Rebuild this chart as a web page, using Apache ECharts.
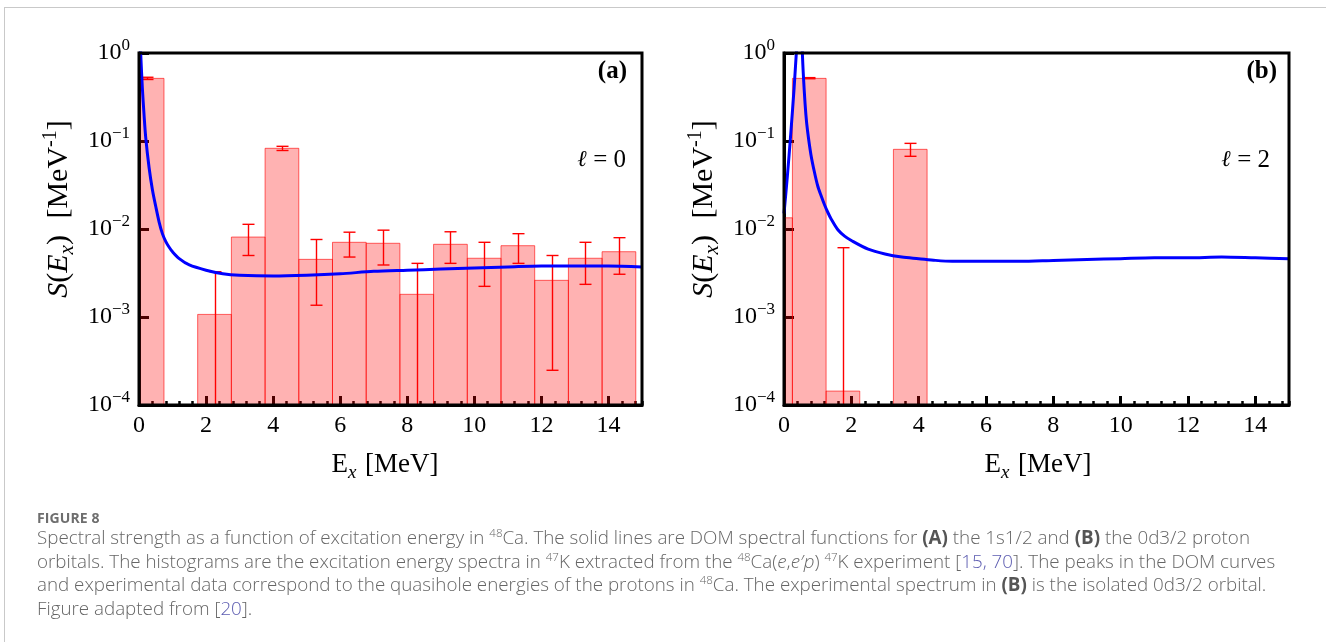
<!DOCTYPE html>
<html>
<head>
<meta charset="utf-8">
<script src="https://cdn.jsdelivr.net/npm/echarts@6/dist/echarts.min.js"></script>
<style>
html,body{margin:0;padding:0;background:#fff;}
#wrap{position:relative;width:1326px;height:642px;overflow:hidden;background:#fff;}
#chart{position:absolute;left:0;top:0;width:1326px;height:642px;}
#frame{position:absolute;left:4px;top:7px;width:1340px;height:660px;border-left:1.5px solid #c9c9c9;border-top:1.5px solid #c9c9c9;pointer-events:none;}
#cap{position:absolute;left:37px;top:509px;font-family:"Open Sans",sans-serif;color:#666;white-space:nowrap;}
#cap .fig{font-size:14px;font-weight:700;line-height:17px;color:#6e6e6e;letter-spacing:0.1px;}
#cap .txt{font-size:18.8px;line-height:23.5px;font-weight:300;}
#cap sup{font-size:11.5px;vertical-align:super;line-height:0;}
#cap a{color:#5b5bb0;text-decoration:none;}
#cap b{font-weight:700;color:#555;}
</style>
</head>
<body>
<div id="wrap">
<div id="chart"></div>
<div id="frame"></div>
<div id="cap">
<div class="fig">FIGURE 8</div>
<div class="txt">Spectral strength as a function of excitation energy in <sup>48</sup>Ca. The solid lines are DOM spectral functions for <b>(A)</b> the 1s1/2 and <b>(B)</b> the 0d3/2 proton<br>orbitals. The histograms are the excitation energy spectra in <sup>47</sup>K extracted from the <sup>48</sup>Ca(<i>e</i>,<i>e′p</i>) <sup>47</sup>K experiment [<a>15, 70</a>]. The peaks in the DOM curves<br>and experimental data correspond to the quasihole energies of the protons in <sup>48</sup>Ca. The experimental spectrum in <b>(B)</b> is the isolated 0d3/2 orbital.<br>Figure adapted from [<a>20</a>].</div>
</div>
</div>
<script>
// ---------- data ----------
// Panel (a): l = 0 histogram (bin edges, strengths, error bounds)
const edgesA = [-0.26, 0.745, 1.75, 2.755, 3.76, 4.765, 5.77, 6.775, 7.78, 8.785, 9.79, 10.795, 11.8, 12.805, 13.81, 14.815];
const valsA  = [0.515, null, 1.07e-3, 8.1e-3, 0.0826, 4.52e-3, 7.06e-3, 6.88e-3, 1.81e-3, 6.7e-3, 4.65e-3, 6.46e-3, 2.61e-3, 4.65e-3, 5.52e-3];
const errHiA = [0.53, null, 3.27e-3, 0.0113, 0.087, 7.6e-3, 9.2e-3, 9.7e-3, 4.07e-3, 9.3e-3, 7.06e-3, 8.85e-3, 5.0e-3, 7.06e-3, 7.97e-3];
const errLoA = [0.50, null, null, 5.0e-3, 0.078, 1.36e-3, 4.8e-3, 3.9e-3, null, 4.07e-3, 2.23e-3, 4.07e-3, 2.48e-4, 2.35e-3, 3.06e-3];
// Panel (a): DOM spectral function
const curveAx = [0.02, 0.05, 0.1, 0.15, 0.2, 0.3, 0.4, 0.5, 0.6, 0.7, 0.8, 0.9, 1.0, 1.2, 1.5, 2.0, 2.5, 3.0, 4.0, 5.0, 6.0, 7.0, 8.0, 9.0, 10.0, 11.0, 12.0, 13.0, 14.0, 15.0];
const curveAy = [2.0, 1.0, 0.4, 0.2, 0.11, 0.05, 0.028, 0.018, 0.012, 0.0088, 0.0072, 0.0062, 0.0055, 0.0046, 0.0039, 0.0034, 0.0031, 0.00298, 0.00292, 0.00298, 0.0031, 0.0033, 0.0034, 0.0035, 0.0036, 0.0037, 0.0038, 0.0038, 0.0038, 0.0037];

// Panel (b): l = 2 histogram
const edgesB = [-0.75, 0.25, 1.25, 2.25, 3.25, 4.25];
const valsB  = [0.0134, 0.515, 1.44e-4, null, 0.0804];
const errHiB = [null, 0.525, 6.13e-3, null, 0.094];
const errLoB = [null, 0.51, null, null, 0.067];
// Panel (b): DOM spectral function
const curveBx = [0.0, 0.1, 0.2, 0.3, 0.35, 0.4, 0.45, 0.5, 0.55, 0.6, 0.65, 0.7, 0.8, 0.9, 1.0, 1.1, 1.2, 1.3, 1.4, 1.6, 1.8, 2.0, 2.5, 3.0, 3.5, 4.0, 4.5, 5.0, 6.0, 7.0, 8.0, 9.0, 10.0, 11.0, 12.0, 13.0, 14.0, 15.0];
const curveBy = [0.015, 0.04, 0.12, 0.4, 0.8, 1.6, 4.0, 4.0, 0.9, 0.38, 0.2, 0.13, 0.07, 0.045, 0.031, 0.024, 0.019, 0.0155, 0.013, 0.0098, 0.0083, 0.0074, 0.0059, 0.0052, 0.0048, 0.0046, 0.0044, 0.0043, 0.0043, 0.0043, 0.0044, 0.0045, 0.0046, 0.0047, 0.0047, 0.0048, 0.0047, 0.0046];

// axis ticks
const xMin = 0, xMax = 15, xMajor = 2, xMinor = 0.4;
const yMin = 1e-4, yMax = 1;

// ---------- helpers ----------
const SERIF = '"Liberation Serif","DejaVu Serif",serif';
function binRows(edges, vals){
  const r = [];
  vals.forEach((v,i)=>{ if(v!=null) r.push([edges[i], edges[i+1], v]); });
  return r;
}
function errRows(edges, lo, hi){
  const r = [];
  hi.forEach((h,i)=>{ if(h!=null) r.push([(edges[i]+edges[i+1])/2, lo[i], h]); });
  return r;
}
function zip(xs, ys){ return xs.map((x,i)=>[x, ys[i]]); }

function renderBar(params, api){
  const x0 = api.value(0), x1 = api.value(1), v = api.value(2);
  const p0 = api.coord([x0, v]), p1 = api.coord([x1, v]);
  const cs = params.coordSys;
  const bottom = cs.y + cs.height;
  const shape = echarts.graphic.clipRectByRect(
    {x:p0[0], y:p0[1], width:p1[0]-p0[0], height:bottom-p0[1]},
    {x:cs.x, y:cs.y, width:cs.width, height:cs.height});
  if(!shape) return;
  return {type:'rect', shape:shape, style:{fill:'rgba(255,0,0,0.3)', stroke:'rgba(255,0,0,0.6)', lineWidth:1}};
}
function renderErr(params, api){
  const x = api.value(0), lo = api.value(1), hi = api.value(2);
  const cs = params.coordSys;
  const bottom = cs.y + cs.height;
  const pHi = api.coord([x, hi]);
  const px = Math.round(pHi[0]) + 0.5;
  const yHi = pHi[1];
  const yLo = (lo > 0) ? api.coord([x, lo])[1] : bottom;
  const w = 6;
  const st = {stroke:'#ff0000', lineWidth:1.4};
  const ch = [
    {type:'line', shape:{x1:px, y1:yHi, x2:px, y2:yLo}, style:st},
    {type:'line', shape:{x1:px-w, y1:yHi, x2:px+w, y2:yHi}, style:st}
  ];
  if(lo > 0) ch.push({type:'line', shape:{x1:px-w, y1:yLo, x2:px+w, y2:yLo}, style:st});
  return {type:'group', children:ch};
}
function yLabel(v){
  const e = Math.round(Math.log10(v));
  return '{b|10}{s|' + (e === 0 ? '0' : '\u2212' + (-e)) + '}';
}

const grids = [
  {left:139, top:53, width:503, height:352},
  {left:784, top:53, width:505, height:352}
];

function mainX(gi){
  return {
    type:'value', gridIndex:gi, min:xMin, max:xMax, interval:xMajor, position:'bottom',
    axisLine:{show:true, onZero:false, lineStyle:{color:'#000', width:3}},
    axisTick:{show:true, inside:true, length:9, lineStyle:{color:'#000', width:3}},
    splitLine:{show:false},
    axisLabel:{show:true, margin:9, fontFamily:SERIF, fontSize:24, color:'#000', showMaxLabel:false,
      formatter:(v)=> (Math.abs(v % xMajor) < 1e-9 ? String(v) : '')}
  };
}
function minorX(gi){
  return {
    type:'value', gridIndex:gi, min:xMin, max:xMax, interval:xMinor, position:'bottom',
    axisLine:{show:false}, axisLabel:{show:false}, splitLine:{show:false},
    axisTick:{show:true, inside:true, length:4, lineStyle:{color:'#000', width:2.5}}
  };
}
function mainY(gi){
  return {
    type:'log', logBase:10, gridIndex:gi, min:yMin, max:yMax,
    axisLine:{show:true, onZero:false, lineStyle:{color:'#000', width:3}},
    axisTick:{show:true, inside:true, length:10, lineStyle:{color:'#000', width:3}},
    splitLine:{show:false}, minorTick:{show:false},
    axisLabel:{show:true, margin:9, formatter:yLabel,
      rich:{
        b:{fontFamily:SERIF, fontSize:24, color:'#000', lineHeight:32},
        s:{fontFamily:SERIF, fontSize:17, color:'#000', verticalAlign:'top', lineHeight:17}
      }}
  };
}

function richName(fs, gapEm){
  return {
    n:{fontFamily:SERIF, fontSize:fs, color:'#000', lineHeight:fs+7},
    it:{fontFamily:SERIF, fontSize:fs, fontStyle:'italic', color:'#000', lineHeight:fs+7},
    sub:{fontFamily:SERIF, fontSize:Math.round(fs*0.7), fontStyle:'italic', color:'#000', verticalAlign:'bottom', lineHeight:Math.round(fs*0.7)},
    sup:{fontFamily:SERIF, fontSize:Math.round(fs*0.66), color:'#000', verticalAlign:'top', lineHeight:Math.round(fs*0.66)},
    gap:{fontFamily:SERIF, fontSize:fs, width:fs*gapEm}
  };
}
const richTag = {
  n:{fontFamily:SERIF, fontSize:25, color:'#000'},
  it:{fontFamily:'"DejaVu Serif",serif', fontSize:23, fontStyle:'italic', color:'#000'}
};

function yName(cx){
  return {type:'text', x:cx, y:209, rotation:Math.PI/2, z:20,
    style:{text:'{it|S}{n|(}{it|E}{sub|x}{n|)}{gap| }{n|[MeV}{sup|-1}{n|]}', rich:richName(30, 0.55), align:'center', verticalAlign:'middle'}};
}
function xName(cx){
  return {type:'text', x:cx, y:465, z:20,
    style:{text:'{n|E}{sub|x}{gap| }{n|[MeV]}', rich:richName(27, 0.32), align:'center', verticalAlign:'middle'}};
}

const option = {
  animation:false,
  backgroundColor:'#fff',
  grid:grids.map(g=>Object.assign({show:true, borderColor:'#000', borderWidth:3, backgroundColor:'transparent', z:10}, g)),
  xAxis:[mainX(0), minorX(0), mainX(1), minorX(1)],
  yAxis:[mainY(0), mainY(1)],
  series:[
    {type:'custom', name:'hist a', xAxisIndex:0, yAxisIndex:0, z:2, clip:true,
     encode:{x:[0,1], y:2}, data:binRows(edgesA, valsA), renderItem:renderBar},
    {type:'custom', name:'err a', xAxisIndex:0, yAxisIndex:0, z:3, clip:true,
     encode:{x:0, y:2}, data:errRows(edgesA, errLoA, errHiA), renderItem:renderErr},
    {type:'line', name:'DOM a', xAxisIndex:0, yAxisIndex:0, z:4, clip:true, showSymbol:false, symbol:'none',
     smooth:0.3, lineStyle:{color:'#0000ff', width:3}, data:zip(curveAx, curveAy)},
    {type:'custom', name:'hist b', xAxisIndex:2, yAxisIndex:1, z:2, clip:true,
     encode:{x:[0,1], y:2}, data:binRows(edgesB, valsB), renderItem:renderBar},
    {type:'custom', name:'err b', xAxisIndex:2, yAxisIndex:1, z:3, clip:true,
     encode:{x:0, y:2}, data:errRows(edgesB, errLoB, errHiB), renderItem:renderErr},
    {type:'line', name:'DOM b', xAxisIndex:2, yAxisIndex:1, z:4, clip:true, showSymbol:false, symbol:'none',
     smooth:0.3, lineStyle:{color:'#0000ff', width:3}, data:zip(curveBx, curveBy)}
  ],
  graphic:[
    yName(59), yName(704),
    xName(385), xName(1038),
    {type:'text', x:627, y:72, z:20, style:{text:'(a)', fontFamily:SERIF, fontSize:25, fontWeight:'bold', fill:'#000', align:'right', verticalAlign:'middle'}},
    {type:'text', x:1277, y:72, z:20, style:{text:'(b)', fontFamily:SERIF, fontSize:25, fontWeight:'bold', fill:'#000', align:'right', verticalAlign:'middle'}},
    {type:'text', x:626, y:160, z:20, style:{text:'{it|ℓ}{n| = 0}', rich:richTag, align:'right', verticalAlign:'middle'}},
    {type:'text', x:1270, y:160, z:20, style:{text:'{it|ℓ}{n| = 2}', rich:richTag, align:'right', verticalAlign:'middle'}}
  ]
};
const chart = echarts.init(document.getElementById('chart'), null, {renderer:'canvas'});
chart.setOption(option);
</script>
</body>
</html>
